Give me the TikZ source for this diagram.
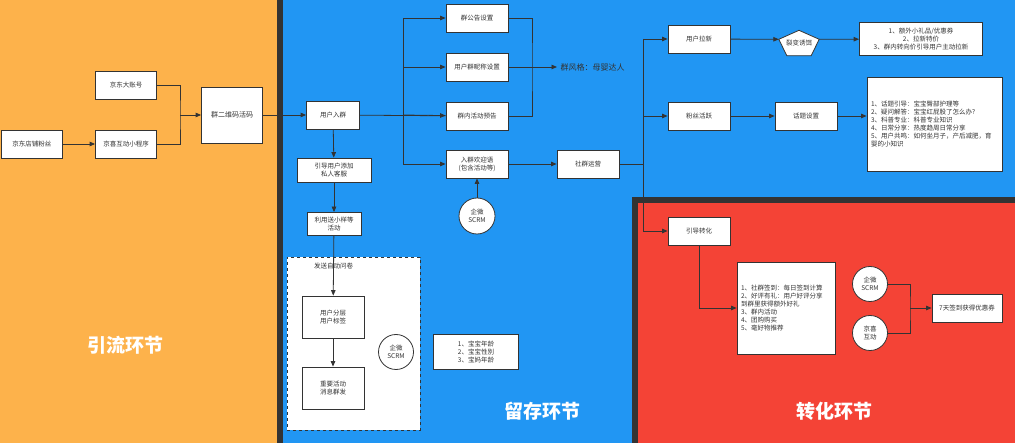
\documentclass[tikz,border=0pt]{standalone}
\usepackage{fontspec}
\setmainfont{Noto Sans CJK SC}
\definecolor{flowor}{HTML}{FDB24B}
\definecolor{keepbl}{HTML}{2196F3}
\definecolor{convrd}{HTML}{F44336}
\definecolor{ink}{HTML}{333333}
\usetikzlibrary{arrows.meta,positioning,calc}
\tikzset{
  box/.style={draw=ink,line width=0.8pt,fill=white,text=ink,align=center,
              minimum width=62pt,minimum height=28pt,inner sep=2pt,
              font=\fontsize{6.5}{8}\selectfont},
  listbox/.style={box,align=left},
  crc/.style={circle,draw=ink,line width=0.8pt,fill=white,text=ink,align=center,
              minimum size=35pt,inner sep=0pt,font=\fontsize{6.5}{8}\selectfont},
  arr/.style={-{Triangle[length=5.5pt,width=4.5pt]},line width=0.8pt,draw=ink},
  ln/.style={line width=0.8pt,draw=ink},
  stage/.style={text=white,font=\fontsize{19}{22}\selectfont\bfseries}
}

\begin{document}
\begin{tikzpicture}[x=1pt,y=-1pt]
    \useasboundingbox (0,0) rectangle (1015,443);
    % stage panels
    \fill[flowor] (0,0) rectangle (277,443);
    \fill[ink] (277,0) rectangle (283,443);
    \fill[keepbl] (283,0) rectangle (1015,443);
    \fill[ink] (632,197) rectangle (1015,443);
    \fill[convrd] (638,203) rectangle (1015,443);
    \node[stage] (s1) at (125,345) {引流环节};
    \node[stage] (s2) at (542,411) {留存环节};
    \node[stage] (s3) at (834,411) {转化环节};

    % traffic
    \node[box,minimum width=61pt] (fans) at (32,144) {京东店铺粉丝};
    \node[box,minimum width=61pt] (bigacct) at (126,85) {京东大账号};
    \node[box,minimum width=61pt] (mini) at (126,144) {京喜互动小程序};
    \node[box,minimum width=61pt,minimum height=56pt,font=\fontsize{7}{9}\selectfont] (qrcode) at (232,115) {群二维码活码};
    \coordinate (qmerge) at (180,115);
    \draw[arr] (fans) -- (mini);
    \draw[ln] (bigacct.east) -| (qmerge) |- (mini.east);
    \draw[arr] (qmerge) -- (qrcode);

    % retention
    \node[box,minimum width=53pt] (join) at (333,115) {用户入群};
    \draw[arr] (qrcode) -- (join);
    \foreach \y/\n/\t in {18/notice/群公告设置,67/nick/用户群昵称设置,116/preview/群内活动预告}{
      \node[box] (\n) at (477,\y) {\t};
    }
    \node[box] (welcome) at (477,164) {入群欢迎语\\(包含活动等)};
    \node[text=ink,font=\fontsize{8}{10}\selectfont,anchor=west] (style) at (557,67) {群风格：母婴达人};
    \coordinate (fork) at (403,115);
    \coordinate (merge) at (532,67);
    \draw[ln] (join) -- (preview);
    \draw[ln] (fork |- notice) -- (fork |- welcome);
    \foreach \n in {notice,nick,welcome}{
      \draw[arr] (fork |- \n) -- (\n);
    }
    \draw[arr] (fork) -- (preview);
    \draw[ln] (notice.east) -| (merge) |- (preview.east);
    \draw[arr] (nick) -- (style);
    \node[crc,minimum size=36pt] (scrmA) at (477,216) {企微\\SCRM};
    \draw[arr] (scrmA) -- (welcome);
    \node[box] (ops) at (588,164) {社群运营};
    \draw[arr] (welcome) -- (ops);

    \node[box,minimum width=74pt,minimum height=24pt] (addcs) at (334,170) {引导用户添加\\私人客服};
    \node[box,minimum width=54pt,minimum height=23pt] (sample) at (334,224) {利用送小样等\\活动};
    \node[draw=ink,dashed,line width=0.8pt,fill=white,minimum width=133pt,minimum height=173pt] (pool) at (353.5,343.5) {};
    \node[box,minimum height=42pt] (layer) at (333,317) {用户分层\\用户标签};
    \node[box,minimum height=42pt] (mass) at (333,388) {重要活动\\消息群发};
    \node[crc] (scrmB) at (396,352) {企微\\SCRM};
    \draw[arr] (join) -- (addcs);
    \draw[arr] (addcs) -- (sample);
    \draw[arr] (sample) -- node[text=ink,font=\fontsize{6.5}{8}\selectfont]{发送自动问卷} (layer);
    \draw[arr] (layer) -- (mass);
    \node[box,minimum width=85pt,minimum height=35pt] (attrs) at (476,352) {1、宝宝年龄\\2、宝宝性别\\3、宝妈年龄};

    % growth
    \coordinate (fork2) at (643,164);
    \node[box] (invite) at (699,39) {用户拉新};
    \node[box] (active) at (699,116) {粉丝活跃};
    \node[box] (convert) at (699,231) {引导转化};
    \draw[ln] (ops) -- (fork2);
    \draw[ln] (fork2 |- invite) -- (fork2 |- convert);
    \foreach \n in {invite,active,convert}{
      \draw[arr] (fork2 |- \n) -- (\n);
    }
    \node[inner sep=0pt,minimum width=40pt,minimum height=25pt,text=ink,font=\fontsize{6.5}{8}\selectfont] (bait) at (799,43) {裂变诱饵};
    \draw[ln,fill=white] (bait.north) -- ([yshift=-9pt]bait.north east) -- ([xshift=-8pt]bait.south east)
      -- ([xshift=8pt]bait.south west) -- ([yshift=-9pt]bait.north west) -- cycle;
    \node[text=ink,font=\fontsize{6.5}{8}\selectfont] at (bait) {裂变诱饵};
    \node[box,minimum width=123pt,minimum height=33pt] (baitlist) at (921,39) {1、额外小礼品/优惠券\\2、拉新特价\\3、群内转向价引导用户主动拉新};
    \draw[arr] (invite) -- ([yshift=-9pt]bait.north west);
    \draw[arr] ([yshift=-9pt]bait.north east) -- (baitlist);
    \node[box] (topic) at (806,116) {话题设置};
    \node[listbox,minimum width=135pt,minimum height=94pt,text width=127pt] (topiclist) at (934.5,124) {1、话题引导：宝宝臀部护理等\\2、疑问解答：宝宝红屁股了怎么办?\\3、科普专业：科普专业知识\\4、日常分享：热度趋周日常分享\\5、用户共鸣：如何坐月子，产后减肥，育\\婴的小知识};
    \draw[arr] (active) -- (topic);
    \draw[arr] (topic) -- (topic -| topiclist.west);

    % conversion
    \node[listbox,minimum width=98pt,minimum height=92pt,text width=90pt] (convlist) at (786,308) {1、社群签到：每日签到计算\\2、好评有礼：用户好评分享\\到群里获得额外好礼\\3、群内活动\\4、团购购买\\5、毫好物推荐};
    \draw[arr] (convert) |- (convlist);
    \node[crc] (scrmC) at (870,284) {企微\\SCRM};
    \node[crc] (jxhd) at (870,333) {京喜\\互动};
    \node[box,minimum width=70pt] (coupon) at (967,308) {7天签到获得优惠券};
    \coordinate (cmerge) at (910,308);
    \draw[ln] (scrmC.east) -| (cmerge) |- (jxhd.east);
    \draw[arr] (cmerge) -- (coupon);
\end{tikzpicture}
\end{document}
